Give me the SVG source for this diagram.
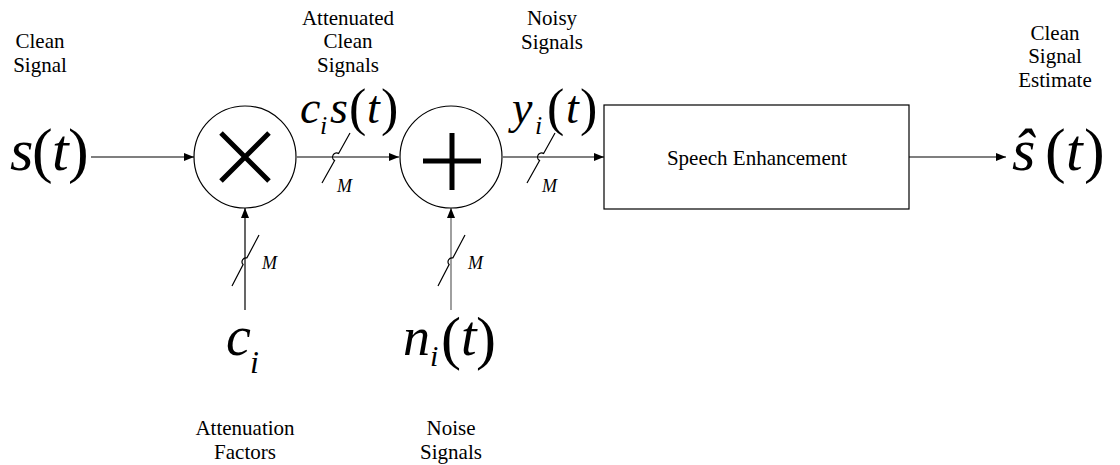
<svg xmlns="http://www.w3.org/2000/svg" width="1120" height="465" viewBox="0 0 1120 465" font-family="'Liberation Serif', 'Times New Roman', serif">
<style>
text{font-family:'Liberation Serif','Times New Roman',serif}
.lbl{font-size:21px;fill:#000;text-anchor:middle}
.m{font-style:italic;fill:#000}
.p{fill:#000}
.ln{stroke:#000;stroke-width:1.2;fill:none}
.op{stroke:#000;stroke-width:5;fill:none}
</style>
<defs>
<marker id="ah" markerWidth="10" markerHeight="8" refX="10" refY="4" orient="auto" markerUnits="userSpaceOnUse">
<path d="M0,0 L10,4 L0,8 Z" fill="#000"/>
</marker>
</defs>
<rect width="1120" height="465" fill="#fff"/>

<g id="connectors">
<line class="ln" x1="91" y1="157" x2="194" y2="157" marker-end="url(#ah)"/>
<line class="ln" x1="297" y1="157" x2="399" y2="157" marker-end="url(#ah)"/>
<line class="ln" x1="503" y1="157" x2="604" y2="157" marker-end="url(#ah)"/>
<line class="ln" x1="909" y1="157" x2="1006" y2="157" marker-end="url(#ah)"/>
<line class="ln" x1="245" y1="310" x2="245" y2="208" marker-end="url(#ah)"/>
<line x1="451" y1="310" x2="451" y2="208" stroke="#777" stroke-width="1.4" marker-end="url(#ah)"/>
<path class="ln" d="M322,183 L334.6,160.5 A4,4 0 0 1 338.6,153.5 L350,133"/>
<path class="ln" d="M527,183 L539.6,160.5 A4,4 0 0 1 543.6,153.5 L555,133"/>
<path class="ln" d="M232,286 L243.1,264.5 A4,4 0 0 1 246.9,257.9 L259,235"/>
<path class="ln" d="M438,286 L449.1,264.5 A4,4 0 0 1 452.9,257.9 L465,235"/>
<text class="m" x="337" y="192" font-size="18">M</text>
<text class="m" x="542" y="192" font-size="18">M</text>
<text class="m" x="262" y="269" font-size="18">M</text>
<text class="m" x="468" y="269" font-size="18">M</text>
</g>

<g id="src">
<text class="lbl" x="40" y="48">Clean</text>
<text class="lbl" x="40" y="72">Signal</text>
<text class="m" x="10" y="170" font-size="60">s</text>
<text class="p" x="32" y="171" font-size="62">(</text>
<text class="m" x="52" y="170" font-size="60">t</text>
<text class="p" x="68" y="171" font-size="62">)</text>
</g>

<g id="mult">
<circle class="ln" cx="245" cy="157" r="51"/>
<path class="op" d="M221,133 L269,181 M269,133 L221,181"/>
</g>

<g id="att-label">
<text class="lbl" x="348" y="25">Attenuated</text>
<text class="lbl" x="348" y="48">Clean</text>
<text class="lbl" x="348" y="72">Signals</text>
<text class="m" x="300" y="123" font-size="46">c</text>
<text class="m" x="320" y="134" font-size="26">i</text>
<text class="m" x="330" y="123" font-size="46">s</text>
<text class="p" x="349" y="125" font-size="52">(</text>
<text class="m" x="367" y="123" font-size="46">t</text>
<text class="p" x="381" y="125" font-size="52">)</text>
</g>

<g id="add">
<circle class="ln" cx="451" cy="157" r="51"/>
<path class="op" d="M423,161 L481,161 M452,133 L452,190"/>
</g>

<g id="noisy-label">
<text class="lbl" x="552" y="25">Noisy</text>
<text class="lbl" x="552" y="49">Signals</text>
<text class="m" x="512" y="123" font-size="46">y</text>
<text class="m" x="535" y="134" font-size="26">i</text>
<text class="p" x="547" y="125" font-size="52">(</text>
<text class="m" x="566" y="123" font-size="46">t</text>
<text class="p" x="580" y="125" font-size="52">)</text>
</g>

<g id="enh">
<rect class="ln" x="604" y="105" width="305" height="104"/>
<text class="lbl" x="757" y="165">Speech Enhancement</text>
</g>

<g id="out">
<text class="lbl" x="1055" y="40">Clean</text>
<text class="lbl" x="1055" y="63">Signal</text>
<text class="lbl" x="1055" y="87">Estimate</text>
<text class="m" x="1012" y="170" font-size="60">ŝ</text>
<text class="p" x="1045" y="171" font-size="62">(</text>
<text class="m" x="1066" y="170" font-size="60">t</text>
<text class="p" x="1084" y="171" font-size="62">)</text>
</g>

<g id="ci">
<text class="m" x="226" y="355" font-size="56">c</text>
<text class="m" x="250" y="373" font-size="32">i</text>
<text class="lbl" x="245" y="435">Attenuation</text>
<text class="lbl" x="245" y="459">Factors</text>
</g>

<g id="ni">
<text class="m" x="403" y="355" font-size="54">n</text>
<text class="m" x="430" y="366" font-size="30">i</text>
<text class="p" x="441" y="358" font-size="60">(</text>
<text class="m" x="461" y="355" font-size="56">t</text>
<text class="p" x="476" y="358" font-size="60">)</text>
<text class="lbl" x="451" y="435">Noise</text>
<text class="lbl" x="451" y="459">Signals</text>
</g>
</svg>
